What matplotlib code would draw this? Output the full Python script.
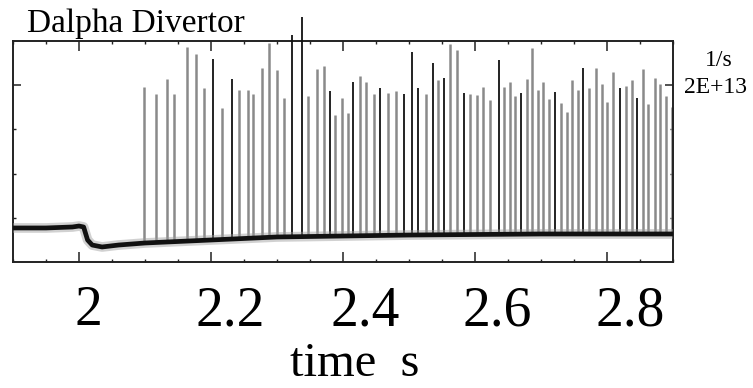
import numpy as np
import matplotlib
matplotlib.use("Agg")
import matplotlib.pyplot as plt
from matplotlib.transforms import ScaledTranslation, blended_transform_factory

plt.rcParams['font.family'] = ['Liberation Serif', 'DejaVu Serif']

# ---- data (time in s, signal in units of 1e13 1/s) ----
base_t = [1.90, 1.95, 1.99, 2.00, 2.007, 2.013, 2.02, 2.035, 2.06, 2.10, 2.20, 2.30, 2.40, 2.50, 2.70, 2.90]
base_v = [0.385, 0.385, 0.396, 0.407, 0.396, 0.249, 0.192, 0.170, 0.192, 0.215, 0.249, 0.283, 0.294, 0.305, 0.317, 0.317]

light_t = [2.098, 2.117, 2.133, 2.144, 2.164, 2.177, 2.189, 2.217, 2.242, 2.256, 2.264, 2.277,
           2.288, 2.300, 2.311, 2.347, 2.361, 2.371, 2.388, 2.398, 2.408, 2.426, 2.435, 2.447,
           2.468, 2.480, 2.526, 2.544, 2.562, 2.573, 2.592, 2.603, 2.612, 2.623, 2.644, 2.653,
           2.661, 2.679, 2.686, 2.695, 2.703, 2.712, 2.730, 2.739, 2.747, 2.756, 2.773, 2.783,
           2.792, 2.800, 2.809, 2.829, 2.838, 2.855, 2.862, 2.873, 2.880, 2.889, 2.898]
light_h = [1.98, 1.90, 2.07, 1.90, 2.43, 2.35, 1.97, 1.74, 1.95, 1.95, 1.90, 2.19,
           2.48, 2.17, 1.86, 1.88, 2.18, 2.22, 1.66, 1.86, 1.69, 2.10, 2.04, 1.90,
           1.91, 1.93, 1.90, 2.06, 2.47, 2.40, 1.90, 1.89, 1.98, 1.83, 1.98, 2.04,
           1.88, 2.07, 2.42, 1.95, 2.04, 1.84, 1.80, 1.70, 2.06, 1.95, 1.97, 2.19,
           2.01, 1.81, 2.15, 1.99, 2.06, 2.18, 1.79, 2.08, 2.01, 1.88, 1.75]

dark_t = [2.203, 2.232, 2.323, 2.338, 2.380, 2.415, 2.456, 2.492, 2.505, 2.514, 2.536,
          2.553, 2.583, 2.636, 2.670, 2.721, 2.764, 2.820, 2.845]
dark_h = [2.30, 2.07, 2.57, 2.77, 1.93, 2.04, 1.97, 1.90, 2.38, 1.97, 2.25,
          2.08, 1.91, 2.29, 1.91, 1.92, 2.19, 1.97, 1.86]

xticks = [2.0, 2.2, 2.4, 2.6, 2.8]
xtick_labels = ["2", "2.2", "2.4", "2.6", "2.8"]

fig = plt.figure(figsize=(7.53, 3.88), dpi=100)
ax = fig.add_axes([13/753, 1 - 262/388, 660/753, 221/388])
ax.set_xlim(1.9, 2.9)
ax.set_ylim(0, 2.5)

# spikes
lb = np.interp(light_t, base_t, base_v)
db = np.interp(dark_t, base_t, base_v)
lc = ax.vlines(light_t, lb, light_h, colors='#8a8a8a', linewidth=1.8, zorder=2)
dc = ax.vlines(dark_t, db, dark_h, colors='#111111', linewidth=1.3, zorder=3)
lc.set_clip_on(False)
dc.set_clip_on(False)

# baseline
ax.plot(base_t, base_v, color='#9a9a9a', linewidth=7, alpha=0.45, zorder=4, solid_capstyle='butt')
ax.plot(base_t, base_v, color='#111111', linewidth=3.4, zorder=5, solid_capstyle='butt')

for s in ax.spines.values():
    s.set_linewidth(1.4)
    s.set_color('#222222')

ax.set_xticks(xticks)
ax.set_xticks(np.arange(1.9, 2.9001, 0.05), minor=True)
ax.set_xticklabels([])
ax.tick_params(axis='x', which='major', direction='in', length=7, width=1.1, top=True, bottom=True, color='#222222')
ax.tick_params(axis='x', which='minor', direction='in', length=2.5, width=1.0, top=True, bottom=True, color='#222222')

ax.set_yticks([2.0])
ax.set_yticks([0.5, 1.0, 1.5], minor=True)
ax.set_yticklabels(["2E+13"])
ax.tick_params(axis='y', which='major', direction='in', length=6, width=1.1, left=True, right=True,
               labelleft=False, labelright=True, labelsize=17, pad=8, color='#222222')
ax.tick_params(axis='y', which='minor', direction='in', length=2.5, width=1.0, left=True, right=True, color='#222222')

# x tick labels (shifted as in the reference)
offsets_px = [9, 19, 22, 22, 23]
trans = blended_transform_factory(ax.transData, ax.transAxes)
for xv, lab, dx in zip(xticks, xtick_labels, offsets_px):
    ax.text(xv, 0, lab, transform=trans + ScaledTranslation(dx/100, -(325-262)/100, fig.dpi_scale_trans),
            ha='center', va='baseline', fontsize=40, color='black')

fig.text(355/753, 1 - 376/388, "time  s", ha='center', va='baseline', fontsize=35)
fig.text(27/753, 1 - 32/388, "Dalpha Divertor", ha='left', va='baseline', fontsize=24)
fig.text(719/753, 1 - 66/388, "1/s", ha='center', va='baseline', fontsize=17)

fig.savefig("out.png", dpi=100)
